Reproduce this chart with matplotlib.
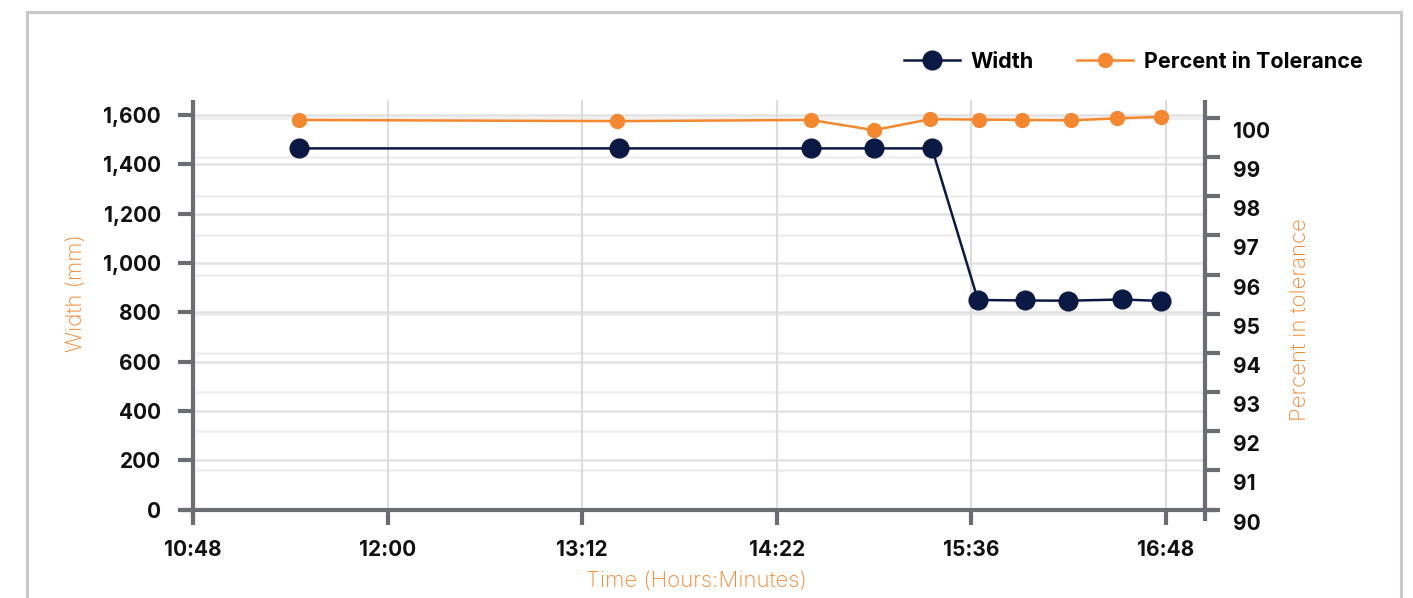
import matplotlib
matplotlib.use("Agg")
import matplotlib.pyplot as plt
import matplotlib.transforms as mtransforms
from matplotlib.patches import Rectangle
from matplotlib.lines import Line2D

# ---- data (minutes after 10:48) ----
width_time = [39.2, 157.6, 228.6, 252.0, 273.4, 290.4, 307.8, 323.7, 343.7, 358.1]
width_mm = [1465, 1465, 1465, 1465, 1465, 850, 848, 847, 852, 846]
pct_time = [39.2, 156.9, 228.6, 252.0, 272.7, 290.8, 306.7, 324.8, 341.8, 358.1]
pct_tol = [99.95, 99.92, 99.95, 99.69, 99.97, 99.96, 99.95, 99.94, 99.99, 100.03]
x_tick_pos = [0, 72, 144, 216, 288, 360]
x_tick_labels = ["10:48", "12:00", "13:12", "14:22", "15:36", "16:48"]
left_ticks = [0, 200, 400, 600, 800, 1000, 1200, 1400, 1600]
right_ticks = [90, 91, 92, 93, 94, 95, 96, 97, 98, 99, 100]

NAVY = "#0b1a44"
ORANGE = "#f5872f"
AXGRAY = "#6a6d72"
FONT = ["Inter", "DejaVu Sans"]
plt.rcParams["font.family"] = FONT
TICK_FS = 15
LABEL_FS = 16

W, H = 1413, 598
fig = plt.figure(figsize=(W / 100, H / 100), dpi=100)
fig.patch.set_facecolor("white")

# outer frame
fig.patches.append(Rectangle((27 / W, -0.1), (1401 - 27) / W, (H - 12) / H + 0.1,
                             transform=fig.transFigure, fill=False,
                             edgecolor="#c9c9c9", linewidth=2.2))

L, R, B, T = 193, 1205, 509.5, 100
ax = fig.add_axes([L / W, (H - B) / H, (R - L) / W, (B - T) / H])
ax2 = ax.twinx()

ax.set_xlim(0, (R - L) / 2.703)
ax.set_ylim(0, (B - T) / 0.2465)
ax2.set_ylim(90, 90 + (B - T) / 39.15)

for a in (ax, ax2):
    for s in a.spines.values():
        s.set_visible(False)
    a.patch.set_visible(False)

# grids (all on the bottom axes)
rtrans = mtransforms.blended_transform_factory(ax.transAxes, ax2.transData)
for v in right_ticks[1:]:
    ax.plot([0, 1], [v, v], transform=rtrans, color="#eeeeee", lw=1.8, zorder=0)
for v in left_ticks[1:]:
    ax.axhline(v, color="#e2e2e2", lw=1.8, zorder=0.5)
for v in x_tick_pos[1:]:
    ax.axvline(v, color="#dcdcdc", lw=1.5, zorder=0.6)

# series
ax.plot(width_time, width_mm, color=NAVY, lw=1.8, marker="o", ms=13.5,
        mfc=NAVY, mec=NAVY, zorder=5, clip_on=False)
ax2.plot(pct_time, pct_tol, color=ORANGE, lw=1.8, marker="o", ms=10,
         mfc=ORANGE, mec=ORANGE, zorder=4, clip_on=False)

# spines drawn manually (extend past corners)
ext = 11
fig.add_artist(Line2D([(L - ext) / W, (R + ext) / W], [(H - B) / H] * 2,
                      color=AXGRAY, lw=3, solid_capstyle="butt"))
for xx in (L, R):
    fig.add_artist(Line2D([xx / W] * 2, [(H - B - ext) / H, (H - T) / H],
                          color=AXGRAY, lw=3, solid_capstyle="butt"))

# ticks
ax.set_xticks(x_tick_pos)
ax.set_xticklabels(x_tick_labels)
ax.set_yticks(left_ticks)
ax.set_yticklabels([f"{v:,}" for v in left_ticks])
ax.tick_params(axis="x", direction="out", length=ext, width=3, color=AXGRAY,
               pad=11, labelsize=TICK_FS)
ax.tick_params(axis="y", direction="out", length=ext, width=3, color=AXGRAY,
               pad=12, labelsize=TICK_FS)
for lab in ax.get_xticklabels() + ax.get_yticklabels():
    lab.set_fontweight("bold")
    lab.set_color("#111111")

ax2.set_yticks(right_ticks)
ax2.tick_params(axis="y", direction="out", length=ext, width=3, color=AXGRAY,
                labelright=False)
off = mtransforms.ScaledTranslation(28 / 100, -14 / 100, fig.dpi_scale_trans)
rt = mtransforms.blended_transform_factory(ax2.transAxes, ax2.transData)
for v in right_ticks:
    ax2.text(1.0, v, f"{v}", transform=rt + off, ha="left", va="center",
             fontsize=TICK_FS, fontweight="bold", color="#111111")

# axis labels
fig.text(76 / W, 1 - 293 / H, "Width (mm)", rotation=90, ha="center", va="center",
         color=ORANGE, fontsize=LABEL_FS, fontweight="light")
fig.text(1300 / W, 1 - 320 / H, "Percent in tolerance", rotation=90, ha="center",
         va="center", color=ORANGE, fontsize=LABEL_FS, fontweight="light")
fig.text(696 / W, 1 - 581 / H, "Time (Hours:Minutes)", ha="center", va="center",
         color=ORANGE, fontsize=LABEL_FS, fontweight="light")

# legend
h1 = Line2D([], [], color=NAVY, lw=1.8, marker="o", ms=13.5, mfc=NAVY, mec=NAVY)
h2 = Line2D([], [], color=ORANGE, lw=1.8, marker="o", ms=10, mfc=ORANGE, mec=ORANGE)
leg = fig.legend([h1, h2], ["Width", "Percent in Tolerance"], ncol=2,
                 loc="center right", bbox_to_anchor=(1382 / W, 1 - 62 / H),
                 frameon=False, handlelength=2.6, handletextpad=0.5,
                 columnspacing=2.0, prop={"family": FONT, "weight": "bold", "size": 15.5})

fig.savefig("out.png", dpi=100, facecolor="white")
